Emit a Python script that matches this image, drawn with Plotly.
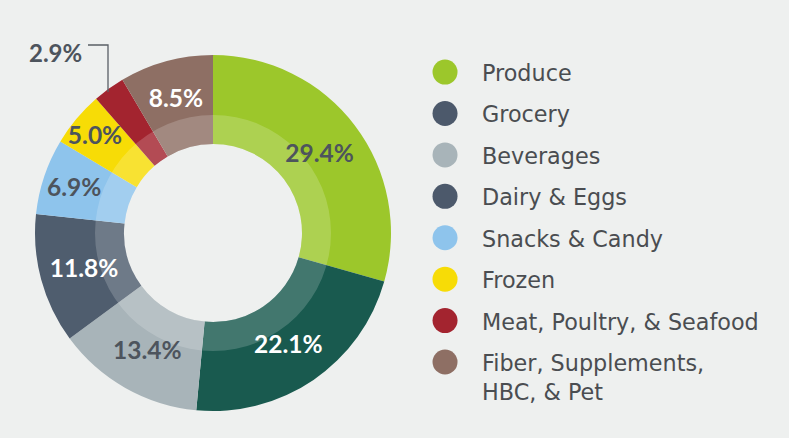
import plotly.graph_objects as go

categories = ["Produce", "Grocery", "Beverages", "Dairy & Eggs", "Snacks & Candy",
              "Frozen", "Meat, Poultry, & Seafood", "Fiber, Supplements,<br>HBC, & Pet"]
shares = [29.4, 22.1, 13.4, 11.8, 6.9, 5.0, 2.9, 8.5]

slice_colors = ["#9cc72b", "#195a4f", "#a8b4b9", "#4f5d6e", "#8ec4ec",
                "#f7dc06", "#a3242f", "#8e6f64"]
legend_colors = ["#9cc72b", "#4c596b", "#a8b4b9", "#4c596b", "#8ec4ec",
                 "#f7dc06", "#a3242f", "#8e6f64"]
label_colors = ["#4d545d", "#ffffff", "#4d545d", "#ffffff", "#4d545d",
                "#4d545d", "#4d545d", "#ffffff"]

W, H = 789, 438
cx, cy, r_out, r_band, r_hole = 213, 233, 178, 118, 89


def dom(r):
    return dict(x=[(cx - r) / W, (cx + r) / W], y=[(H - cy - r) / H, (H - cy + r) / H])


labels = [f"{v:.1f}%" for v in shares]
labels[6] = ""  # small slice is labelled outside with a leader line

fig = go.Figure()

# outer ring
fig.add_trace(go.Pie(
    values=shares, labels=categories, sort=False, direction="clockwise",
    hole=r_hole / r_out, domain=dom(r_out),
    marker=dict(colors=slice_colors, line=dict(width=0)),
    textinfo="none", hoverinfo="label+value", showlegend=False,
))

# lighter inner band
fig.add_trace(go.Pie(
    values=[1], sort=False, hole=r_hole / r_band, domain=dom(r_band),
    marker=dict(colors=["rgba(255,255,255,0.18)"], line=dict(width=0)),
    textinfo="none", hoverinfo="skip", showlegend=False,
))

# percentage labels
fig.add_trace(go.Pie(
    values=shares, labels=categories, sort=False, direction="clockwise",
    hole=r_hole / r_out, domain=dom(r_out),
    marker=dict(colors=["rgba(0,0,0,0)"] * len(shares), line=dict(width=0)),
    text=labels, textinfo="text", textposition="inside",
    insidetextorientation="horizontal",
    textfont=dict(family="Lato", size=24.5, weight="bold", color=label_colors),
    hoverinfo="skip", showlegend=False,
))

# custom legend
fig.add_trace(go.Scatter(
    x=[0] * len(categories), y=list(range(len(categories))),
    mode="markers", marker=dict(size=25, color=legend_colors),
    hoverinfo="skip", showlegend=False, xaxis="x", yaxis="y",
))
for i, name in enumerate(categories):
    fig.add_annotation(
        x=0, y=i, xref="x", yref="y", text=name, showarrow=False,
        xanchor="left", yanchor="top", xshift=35, yshift=14, align="left",
        font=dict(family="DejaVu Sans", size=22.3, color="#4a4d51"),
    )

fig.add_annotation(
    x=84 / W, y=1 - 53 / H, xref="paper", yref="paper", text="2.9%",
    xanchor="right", yanchor="middle", showarrow=False,
    font=dict(family="Lato", size=24, weight="bold", color="#4d545d"),
)
fig.add_shape(
    type="path", xref="paper", yref="paper",
    path=f"M {88 / W} {1 - 45 / H} L {108 / W} {1 - 45 / H} L {108 / W} {1 - 92 / H}",
    line=dict(color="#5a5f66", width=1.3),
)

fig.update_layout(
    width=W, height=H, margin=dict(l=0, r=0, t=0, b=0),
    paper_bgcolor="#eef0ef", plot_bgcolor="rgba(0,0,0,0)",
    uniformtext=dict(mode="show", minsize=24.5),
    xaxis=dict(domain=[0.5156, 1], range=[-1, 9], visible=False, fixedrange=True),
    yaxis=dict(domain=[0.079, 0.930], range=[8, -1], visible=False, fixedrange=True),
)

fig.write_html("out.html", config={"displayModeBar": False},
               post_script="document.body.style.margin='0px';")
